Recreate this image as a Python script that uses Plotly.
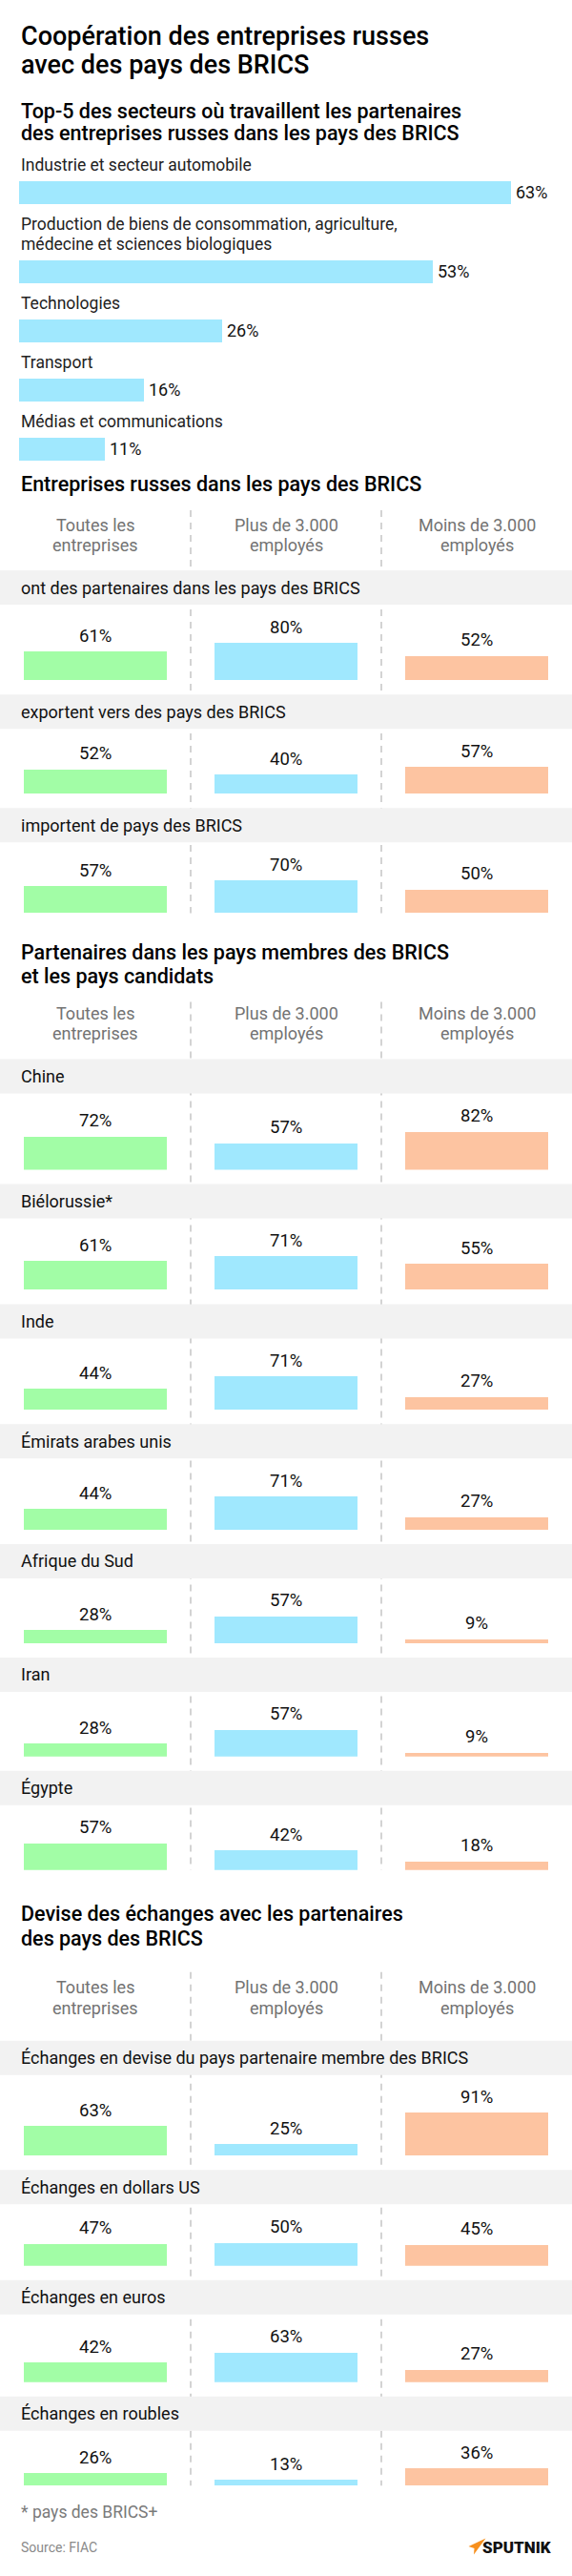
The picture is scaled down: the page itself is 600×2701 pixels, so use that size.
import textwrap
import plotly.graph_objects as go

W, H = 600, 2701
FONT = "Roboto"
GREEN = "#A2FDA6"
BLUE = "#A0E8FE"
ORANGE = "#FDC4A1"
BAND = "#F2F2F2"

# --- data ---
sector_names = [
    "Industrie et secteur automobile",
    "Production de biens de consommation, agriculture, médecine et sciences biologiques",
    "Technologies",
    "Transport",
    "Médias et communications",
]
sector_values = [63, 53, 26, 16, 11]

col_labels = ["Toutes les entreprises", "Plus de 3.000 employés", "Moins de 3.000 employés"]

activity_rows = [
    "ont des partenaires dans les pays des BRICS",
    "exportent vers des pays des BRICS",
    "importent de pays des BRICS",
]
activity_all = [61, 52, 57]
activity_big = [80, 40, 70]
activity_small = [52, 57, 50]

countries = ["Chine", "Biélorussie*", "Inde", "Émirats arabes unis", "Afrique du Sud", "Iran", "Égypte"]
country_all = [72, 61, 44, 44, 28, 28, 57]
country_big = [57, 71, 71, 71, 57, 57, 42]
country_small = [82, 55, 27, 27, 9, 9, 18]

currencies = [
    "Échanges en devise du pays partenaire membre des BRICS",
    "Échanges en dollars US",
    "Échanges en euros",
    "Échanges en roubles",
]
currency_all = [63, 47, 42, 26]
currency_big = [25, 50, 63, 13]
currency_small = [91, 45, 27, 36]

# --- layout helpers ---
S1_PX = 8.19      # px per % in the top bar chart
K = 0.49          # px per % in the column charts
COL_X = [100, 300, 500]
COLORS = [GREEN, BLUE, ORANGE]

fig = go.Figure()
annotations = []
shapes = []
extra_axes = {}
axis_n = [3]


def py(p):
    # pixel from top -> paper fraction
    return 1 - p / H


def label(x, baseline, s, size, color="#111111", weight=400, anchor="left"):
    annotations.append(dict(
        x=x / W, y=py(baseline - 0.345 * size), xref="paper", yref="paper", text=s,
        showarrow=False, xanchor=anchor, yanchor="middle",
        font=dict(family=FONT, size=size, color=color, weight=weight),
    ))


def headers(h1, h2):
    for cx, name in zip(COL_X, col_labels):
        lines = textwrap.wrap(name, 14)
        for ln, b in zip(lines, [h1, h2]):
            label(cx, b, ln, 18, "#737373", anchor="center")


def grid(rows, a, b, c, band_top, dash_top):
    first_shape = len(shapes)
    base = band_top
    for i, name in enumerate(rows):
        vals = [a[i], b[i], c[i]]
        shapes.append(dict(type="rect", xref="paper", yref="paper", x0=0, x1=1,
                           y0=py(band_top + 36), y1=py(band_top), fillcolor=BAND,
                           line=dict(width=0), layer="below"))
        label(20, band_top + 18 + 0.345 * 18, name, 18)
        base = band_top + 36 + 40 + K * max(vals)
        n = axis_n[0]
        axis_n[0] += 1
        extra_axes[f"xaxis{n}"] = dict(domain=[0, 1], range=[0, W], anchor=f"y{n}",
                                       visible=False, fixedrange=True)
        extra_axes[f"yaxis{n}"] = dict(domain=[py(base), py(base - K * 100)], range=[0, 100],
                                       anchor=f"x{n}", visible=False, fixedrange=True)
        fig.add_trace(go.Bar(
            x=COL_X, y=vals, width=150, marker=dict(color=COLORS, line=dict(width=0)),
            xaxis=f"x{n}", yaxis=f"y{n}", hoverinfo="skip", cliponaxis=False,
        ))
        for cx, v in zip(COL_X, vals):
            annotations.append(dict(
                x=cx, y=v, xref=f"x{n}", yref=f"y{n}", text=f"{v}%", showarrow=False,
                xanchor="center", yanchor="bottom", yshift=3.5,
                font=dict(family=FONT, size=18.5, color="#111111"),
            ))
        band_top = base + 15
    for lx in (200, 400):
        shapes.insert(first_shape, dict(type="line", xref="paper", yref="paper",
                                        x0=lx / W, x1=lx / W, y0=py(dash_top), y1=py(base),
                                        layer="below",
                                        line=dict(color="#C9C9C9", width=1.6, dash="7px,6px")))
    return base


# --- title ---
label(20, 47, "Coopération des entreprises russes", 27, "#000000", 500)
label(20, 77, "avec des pays des BRICS", 27, "#000000", 500)

# --- section 1: top-5 sectors ---
label(20, 124, "Top-5 des secteurs où travaillent les partenaires", 21.5, "#000000", 500)
label(20, 147, "des entreprises russes dans les pays des BRICS", 21.5, "#000000", 500)

top = 190
centers = []
for i, name in enumerate(sector_names):
    lines = textwrap.wrap(name, 52)
    if i > 0:
        top += 62 + 21 * (len(lines) - 1)
    for j, ln in enumerate(lines):
        label(20, top - 11 - 21 * (len(lines) - 1 - j), ln, 17.5, "#222222")
    centers.append(top + 11.75)

fig.add_trace(go.Bar(
    x=sector_values, y=centers, orientation="h", width=23.5,
    marker=dict(color=BLUE, line=dict(width=0)), xaxis="x2", yaxis="y2", hoverinfo="skip",
))
for v, cy in zip(sector_values, centers):
    annotations.append(dict(
        x=v, y=cy, xref="x2", yref="y2", text=f"{v}%", showarrow=False,
        xanchor="left", yanchor="middle", xshift=3,
        font=dict(family=FONT, size=18, color="#111111"),
    ))

# --- section 2 ---
label(20, 515, "Entreprises russes dans les pays des BRICS", 21.5, "#000000", 500)
headers(557, 578)
b2 = grid(activity_rows, activity_all, activity_big, activity_small, 598, 535)

# --- section 3 ---
t3 = b2 + 73
label(20, t3 - 25, "Partenaires dans les pays membres des BRICS", 21.5, "#000000", 500)
label(20, t3, "et les pays candidats", 21.5, "#000000", 500)
headers(t3 + 38, t3 + 59)
b3 = grid(countries, country_all, country_big, country_small, t3 + 80, t3 + 20)

# --- section 4 ---
t4 = b3 + 79
label(20, t4 - 26, "Devise des échanges avec les partenaires", 21.5, "#000000", 500)
label(20, t4, "des pays des BRICS", 21.5, "#000000", 500)
headers(t4 + 50, t4 + 72)
b4 = grid(currencies, currency_all, currency_big, currency_small, t4 + 100, t4 + 28)

# --- footer ---
label(20, 2640, "* pays des BRICS+", 17.5, "#7A7A7A")
label(20, 2676, "Source: FIAC", 14, "#8A8A8A")
shapes.append(dict(type="path", xref="paper", yref="paper",
                   path="M 509.5 2661.5 L 491.5 2670 L 497.5 2672 L 497 2678.5 Z",
                   fillcolor="#F7901E", line=dict(width=0)))
annotations.append(dict(
    x=581 / W, y=py(2671), xref="paper", yref="paper", text="SPUTNIK", showarrow=False,
    xanchor="right", yanchor="middle",
    font=dict(family=FONT, size=17, color="#111111", weight=900),
))

# the logo path is given in pixels, so give it its own pixel axes
shapes[-1].update(xref="x", yref="y")

fig.update_layout(
    width=W, height=H,
    margin=dict(l=0, r=0, t=0, b=0),
    paper_bgcolor="white", plot_bgcolor="rgba(0,0,0,0)",
    showlegend=False, bargap=0,
    xaxis=dict(range=[0, W], visible=False, fixedrange=True),
    yaxis=dict(range=[H, 0], visible=False, fixedrange=True),
    xaxis2=dict(domain=[0, 1], range=[-20 / S1_PX, (W - 20) / S1_PX], anchor="y2",
                visible=False, fixedrange=True),
    yaxis2=dict(domain=[0, 1], range=[H, 0], anchor="x2", visible=False, fixedrange=True),
    annotations=annotations,
    shapes=shapes,
    **extra_axes,
)

fig.write_html("out.html", config={"displayModeBar": False},
               post_script="document.body.style.margin='0';")
